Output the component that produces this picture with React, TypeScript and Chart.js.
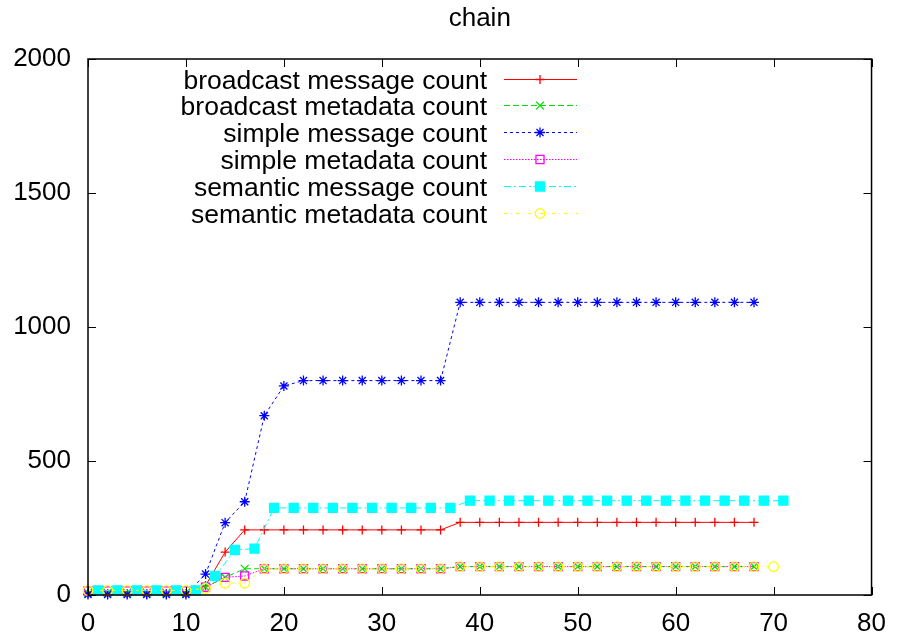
import { useEffect, useRef } from "react";
import { Chart, registerables } from "chart.js";
import { drawPoint } from "chart.js/helpers";

Chart.register(...registerables);

const FONT_FAMILY = '"Liberation Sans", Arial, Helvetica, sans-serif';
const FONT_SIZE = 26;

const titleText = "chain";

// Sample times
const evenX = [0, 2, 4, 6, 8, 10, 12, 14, 16, 18, 20, 22, 24, 26, 28, 30, 32, 34, 36, 38, 40, 42, 44, 46, 48, 50, 52, 54, 56, 58, 60, 62, 64, 66, 68];
const evenX70 = [0, 2, 4, 6, 8, 10, 12, 14, 16, 18, 20, 22, 24, 26, 28, 30, 32, 34, 36, 38, 40, 42, 44, 46, 48, 50, 52, 54, 56, 58, 60, 62, 64, 66, 68, 70];
const oddX = [1, 3, 5, 7, 9, 11, 13, 15, 17, 19, 21, 23, 25, 27, 29, 31, 33, 35, 37, 39, 41, 43, 45, 47, 49, 51, 53, 55, 57, 59, 61, 63, 65, 67, 69, 71];

// Counts per series
const broadcastMessage = [5, 5, 5, 5, 5, 5, 35, 160, 243, 243, 243, 243, 243, 243, 243, 243, 243, 243, 243, 271, 271, 271, 271, 271, 271, 271, 271, 271, 271, 271, 271, 271, 271, 271, 271];
const broadcastMetadata = [8, 8, 8, 8, 8, 8, 30, 66, 98, 98, 98, 98, 98, 98, 98, 98, 98, 98, 98, 106, 106, 106, 106, 106, 106, 106, 106, 106, 106, 106, 106, 106, 106, 106, 106];
const simpleMessage = [2, 2, 2, 2, 2, 2, 78, 270, 348, 669, 780, 800, 800, 800, 800, 800, 800, 800, 800, 1092, 1092, 1092, 1092, 1092, 1092, 1092, 1092, 1092, 1092, 1092, 1092, 1092, 1092, 1092, 1092];
const simpleMetadata = [15, 15, 15, 15, 15, 15, 29, 66, 71, 98, 98, 98, 98, 98, 98, 98, 98, 98, 98, 106, 106, 106, 106, 106, 106, 106, 106, 106, 106, 106, 106, 106, 106, 106, 106];
const semanticMessage = [17, 17, 17, 17, 17, 17, 71, 168, 173, 325, 325, 325, 325, 325, 325, 325, 325, 325, 325, 352, 352, 352, 352, 352, 352, 352, 352, 352, 352, 352, 352, 352, 352, 352, 352, 352];
const semanticMetadata = [17, 17, 17, 17, 17, 17, 25, 44, 44, 98, 98, 98, 98, 98, 98, 98, 98, 98, 98, 106, 106, 106, 106, 106, 106, 106, 106, 106, 106, 106, 106, 106, 106, 106, 106, 106];

const seriesLabels = [
  "broadcast message count",
  "broadcast metadata count",
  "simple message count",
  "simple metadata count",
  "semantic message count",
  "semantic metadata count",
];

const xTicks = [0, 10, 20, 30, 40, 50, 60, 70, 80];
const yTicks = [0, 500, 1000, 1500, 2000];

const pairs = (xs: number[], ys: number[]) => xs.map((x, i) => ({ x, y: ys[i] }));

// Frame with inward mirrored ticks, title and a key in the upper left
const framePlugin = {
  id: "framePlugin",
  afterDraw(chart: any) {
    const { ctx, chartArea } = chart;
    const { left, right, top, bottom } = chartArea;
    const xs = chart.scales.x;
    const ys = chart.scales.y;
    const tick = 8;
    ctx.save();
    ctx.strokeStyle = "#000";
    ctx.lineWidth = 1.5;
    ctx.setLineDash([]);
    ctx.beginPath();
    ctx.rect(left, top, right - left, bottom - top);
    ctx.stroke();
    ctx.lineWidth = 1;
    ctx.beginPath();
    for (const v of xTicks) {
      const px = Math.round(xs.getPixelForValue(v)) + 0.5;
      ctx.moveTo(px, bottom);
      ctx.lineTo(px, bottom - tick);
      ctx.moveTo(px, top);
      ctx.lineTo(px, top + tick);
    }
    for (const v of yTicks) {
      const py = Math.round(ys.getPixelForValue(v)) + 0.5;
      ctx.moveTo(left, py);
      ctx.lineTo(left + tick, py);
      ctx.moveTo(right, py);
      ctx.lineTo(right - tick, py);
    }
    ctx.stroke();

    // title
    ctx.fillStyle = "#000";
    ctx.font = `${FONT_SIZE}px ${FONT_FAMILY}`;
    ctx.textAlign = "center";
    ctx.textBaseline = "alphabetic";
    ctx.fillText(titleText, (left + right) / 2, 26);

    // key
    const textRight = 487;
    const lineStart = 504;
    const lineEnd = 577;
    const markX = 540;
    const rowTop = 78.5;
    const rowStep = 26.85;
    ctx.font = `${FONT_SIZE + 0.5}px ${FONT_FAMILY}`;
    chart.data.datasets.forEach((ds: any, i: number) => {
      const y = Math.round(rowTop + i * rowStep) + 0.5;
      ctx.fillStyle = "#000";
      ctx.textAlign = "right";
      ctx.textBaseline = "alphabetic";
      ctx.fillText(ds.label, textRight, y + 9);
      ctx.strokeStyle = ds.borderColor;
      ctx.lineWidth = 1;
      ctx.setLineDash(ds.borderDash || []);
      ctx.beginPath();
      ctx.moveTo(lineStart, y);
      ctx.lineTo(lineEnd, y);
      ctx.stroke();
      ctx.setLineDash([]);
      ctx.fillStyle = ds.pointBackgroundColor;
      ctx.strokeStyle = ds.pointBorderColor;
      ctx.lineWidth = ds.pointBorderWidth;
      drawPoint(ctx, { pointStyle: ds.pointStyle, radius: ds.pointRadius, rotation: 0, borderWidth: ds.pointBorderWidth }, markX, y);
    });
    ctx.restore();
  },
};

export default function App() {
  const canvasRef = useRef<HTMLCanvasElement | null>(null);

  useEffect(() => {
    const canvas = canvasRef.current;
    if (!canvas) return;
    const mk = (
      label: string,
      data: { x: number; y: number }[],
      color: string,
      dash: number[],
      pointStyle: string,
      radius: number,
      filled: boolean,
      order: number
    ) => ({
      label,
      data,
      showLine: true,
      borderColor: color,
      borderWidth: 1,
      borderDash: dash,
      pointStyle,
      pointRadius: radius,
      pointHoverRadius: radius,
      pointBorderWidth: 1.3,
      pointBorderColor: color,
      pointBackgroundColor: filled ? color : "rgba(0,0,0,0)",
      backgroundColor: filled ? color : "rgba(0,0,0,0)",
      fill: false,
      tension: 0,
      clip: false,
      order,
    });

    const chart = new Chart(canvas, {
      type: "scatter",
      data: {
        datasets: [
          mk(seriesLabels[0], pairs(evenX, broadcastMessage), "#ff0000", [], "cross", 4.5, false, 6),
          mk(seriesLabels[1], pairs(evenX, broadcastMetadata), "#00e000", [6, 3], "crossRot", 5.5, false, 5),
          mk(seriesLabels[2], pairs(evenX, simpleMessage), "#0000ff", [3, 3], "star", 5, false, 4),
          mk(seriesLabels[3], pairs(evenX, simpleMetadata), "#ff00ff", [1.5, 1.5], "rect", 5.7, false, 3),
          mk(seriesLabels[4], pairs(oddX, semanticMessage), "#00ffff", [7, 3, 2, 3], "rect", 6.4, true, 2),
          mk(seriesLabels[5], pairs(evenX70, semanticMetadata), "#ffff00", [3, 4, 1, 4], "circle", 4.8, false, 1),
        ] as any,
      },
      options: {
        responsive: false,
        animation: false,
        events: [],
        layout: { padding: { top: 59, right: 21, left: 0, bottom: 0 } },
        plugins: {
          legend: { display: false },
          title: { display: false },
          tooltip: { enabled: false },
        },
        scales: {
          x: {
            type: "linear",
            min: 0,
            max: 80,
            grid: { display: false, drawTicks: false },
            border: { display: false },
            ticks: {
              stepSize: 10,
              autoSkip: false,
              maxRotation: 0,
              padding: 13,
              color: "#000",
              font: { family: FONT_FAMILY, size: FONT_SIZE },
              callback: (v: any) => String(v),
            },
            afterFit: (scale: any) => {
              scale.height = 42;
            },
          },
          y: {
            type: "linear",
            min: 0,
            max: 2000,
            grid: { display: false, drawTicks: false },
            border: { display: false },
            ticks: {
              stepSize: 500,
              autoSkip: false,
              padding: 17,
              color: "#000",
              font: { family: FONT_FAMILY, size: FONT_SIZE },
              callback: (v: any) => String(v),
            },
            afterFit: (scale: any) => {
              scale.width = 88;
            },
          },
        },
      } as any,
      plugins: [framePlugin],
    });
    return () => chart.destroy();
  }, []);

  return (
    <div style={{ position: "absolute", left: 0, top: 0, width: 899, height: 637, background: "#fff" }}>
      <canvas ref={canvasRef} width={899} height={637} />
    </div>
  );
}
